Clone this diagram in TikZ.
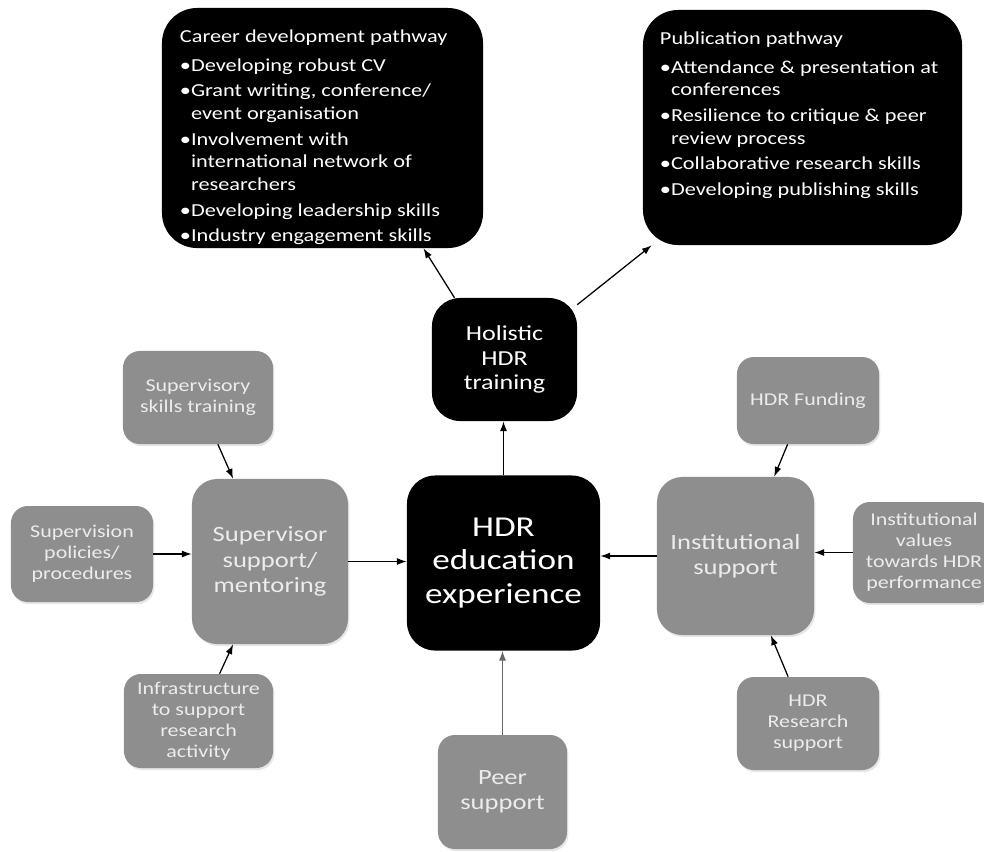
\documentclass[tikz,border=0pt]{standalone}
\usepackage{fontspec}
\setmainfont{Carlito}[FakeStretch=1.22]
\usepackage{tikz}
\usetikzlibrary{arrows.meta}
\usetikzlibrary{shadows}
\definecolor{boxgrey}{RGB}{142,142,142}
\definecolor{textgrey}{RGB}{236,236,236}
\newcommand{\bul}{\textbullet}
\newcommand{\ind}{\phantom{\textbullet}}

\begin{document}
\begin{tikzpicture}[x=0.025cm, y=-0.025cm,
dark/.style ={shape=rectangle, rounded corners=20pt, fill=black, text=white, align=center, inner sep=0pt},
soft/.style ={shape=rectangle, rounded corners=12pt, fill=boxgrey, text=textgrey, align=center, inner sep=0pt,
  drop shadow={opacity=0.2, shadow xshift=1pt, shadow yshift=-1.5pt}},
list/.style ={align=left, inner sep=0pt, text=white, font=\fontsize{13}{16.2}\selectfont},
small/.style ={font=\fontsize{12.8}{15}\selectfont},
large/.style ={font=\fontsize{15.5}{18}\selectfont},
arr/.style ={-{Latex[length=7pt,width=5pt]}, line width=0.9pt}]
\useasboundingbox (0,0) rectangle (984,851);
\clip (0,0) rectangle (984,851);
%\draw[help lines, step=100] (0,0) grid (984,851);
\node[dark, rounded corners=25pt, minimum width=8.025cm, minimum height=6cm] (career) at (322.5,128) {};
\node[dark, rounded corners=25pt, minimum width=7.975cm, minimum height=5.875cm] (pub) at (802.5,127.5) {};
\node[list, anchor=north west] (careerlist) at ([shift={(18,22)}]career.north west) {%
Career development pathway\\[4pt]
\bul Developing robust CV\\[2pt]
\bul Grant writing, conference/\\
\ind event organisation\\[2pt]
\bul Involvement with\\
\ind international network of\\
\ind researchers\\[2pt]
\bul Developing leadership skills\\[2pt]
\bul Industry engagement skills};
\node[list, anchor=north west] (publist) at ([shift={(17,22)}]pub.north west) {%
Publication pathway\\[4pt]
\bul Attendance \& presentation at\\
\ind conferences\\[2pt]
\bul Resilience to critique \& peer\\
\ind review process\\[2pt]
\bul Collaborative research skills\\[2pt]
\bul Developing publishing skills};
\node[dark, font=\fontsize{15.2}{17.2}\selectfont, minimum width=3.625cm, minimum height=3.075cm] (hol) at (504.5,359.5) {Holistic\\HDR\\training};
\node[dark, font=\fontsize{20.5}{24}\selectfont, minimum width=4.825cm, minimum height=4.375cm] (hdr) at (503.5,563) {HDR\\education\\experience};
\node[soft, large, rounded corners=18pt, minimum width=3.9cm, minimum height=4.125cm] (sup) at (270,561.5) {Supervisor\\support/\\mentoring};
\node[soft, large, rounded corners=18pt, minimum width=3.925cm, minimum height=3.95cm] (inst) at (735.5,556) {Institutional\\support};
\node[soft, small, minimum width=3.75cm, minimum height=2.325cm] (skills) at (198,397.5) {Supervisory\\skills training};
\node[soft, small, minimum width=3.55cm, minimum height=2.4cm] (policies) at (82,554) {Supervision\\policies/\\procedures};
\node[soft, small, minimum width=3.725cm, minimum height=2.35cm] (infra) at (198.5,721) {Infrastructure\\to support\\research\\activity};
\node[soft, small, minimum width=3.55cm, minimum height=2.175cm] (funding) at (808,400.5) {HDR Funding};
\node[soft, small, minimum width=3.55cm, minimum height=2.525cm] (values) at (924,552.5) {Institutional\\values\\towards HDR\\performance};
\node[soft, small, minimum width=3.55cm, minimum height=2.325cm] (research) at (808,723.5) {HDR\\Research\\support};
\node[soft, large, minimum width=3.225cm, minimum height=2.85cm] (peer) at (502.5,792) {Peer\\support};
\draw[arr] (skills.-67) -- (sup.114);
\draw[arr] (policies.east) -- (policies.east -| sup.west);
\draw[arr] (infra.66) -- (sup.246);
\draw[arr] (sup.east) -- (sup.east -| hdr.west);
\draw[arr] (funding.245) -- (inst.64);
\draw[arr] (values.west) -- (values.west -| inst.east);
\draw[arr] (research.113) -- (inst.294);
\draw[arr] (inst.west) -- (inst.west -| hdr.east);
\draw[arr, draw=black!60] (peer.north) -- (peer.north |- hdr.south);
\draw[arr] (hdr.north) -- (hdr.north |- hol.south);
\draw[arr] (hol.129) -- (career.-50);
\draw[arr] (hol.37) -- (pub.218);
\end{tikzpicture}
\end{document}
